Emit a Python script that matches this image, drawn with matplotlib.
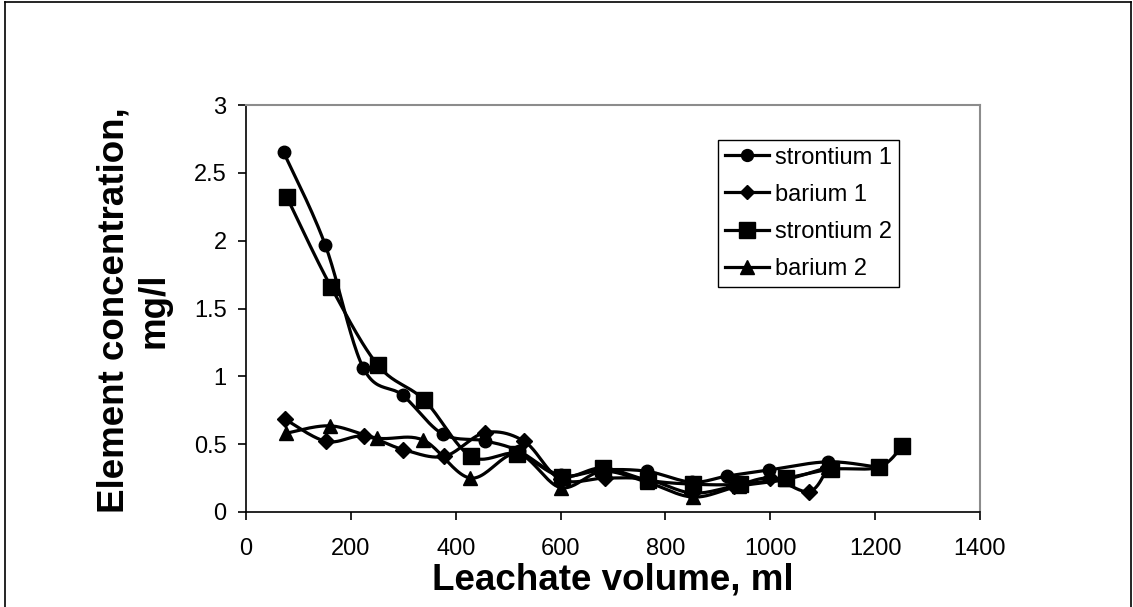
import numpy as np
import matplotlib
matplotlib.use("Agg")
import matplotlib.pyplot as plt
from matplotlib.lines import Line2D

plt.rcParams['font.family'] = ['Liberation Sans', 'DejaVu Sans']

# ---- data ----
sr1_x = [72, 151, 224, 299, 375, 455, 520, 600, 680, 765, 850, 918, 998, 1110, 1205]
sr1_y = [2.65, 1.97, 1.06, 0.86, 0.575, 0.525, 0.45, 0.27, 0.31, 0.30, 0.22, 0.265, 0.31, 0.37, 0.33]

ba1_x = [74, 153, 225, 300, 378, 456, 531, 600, 685, 765, 850, 930, 1000, 1074, 1110]
ba1_y = [0.685, 0.52, 0.56, 0.46, 0.41, 0.585, 0.52, 0.24, 0.25, 0.24, 0.14, 0.19, 0.25, 0.15, 0.33]

sr2_x = [78, 162, 252, 340, 429, 517, 602, 680, 767, 853, 942, 1030, 1116, 1207, 1252]
sr2_y = [2.32, 1.66, 1.08, 0.825, 0.41, 0.43, 0.26, 0.325, 0.235, 0.205, 0.205, 0.25, 0.315, 0.33, 0.485]

ba2_x = [76, 161, 250, 338, 428, 517, 600, 680, 765, 853, 940, 1030, 1110]
ba2_y = [0.58, 0.635, 0.545, 0.53, 0.25, 0.43, 0.18, 0.30, 0.22, 0.11, 0.19, 0.24, 0.33]

series_names = ["strontium 1", "barium 1", "strontium 2", "barium 2"]
x_ticks = [0, 200, 400, 600, 800, 1000, 1200, 1400]
y_ticks = [0, 0.5, 1, 1.5, 2, 2.5, 3]
y_tick_labels = ["0", "0.5", "1", "1.5", "2", "2.5", "3"]


def smooth(xs, ys, n=24):
    """Excel-like smoothed line: cubic Bezier through points (Catmull-Rom tangents)."""
    p = np.column_stack([xs, ys]).astype(float)
    out = []
    m = len(p)
    for i in range(m - 1):
        p0 = p[i - 1] if i > 0 else p[i]
        p1 = p[i]
        p2 = p[i + 1]
        p3 = p[i + 2] if i + 2 < m else p[i + 1]
        c1 = p1 + (p2 - p0) / 6.0
        c2 = p2 - (p3 - p1) / 6.0
        t = np.linspace(0, 1, n, endpoint=(i == m - 2))[:, None]
        seg = ((1 - t) ** 3) * p1 + 3 * ((1 - t) ** 2) * t * c1 + 3 * (1 - t) * t ** 2 * c2 + t ** 3 * p2
        out.append(seg)
    out = np.vstack(out)
    return out[:, 0], out[:, 1]


W, H = 1133, 607
fig = plt.figure(figsize=(W / 100, H / 100), dpi=100)
fig.patch.set_facecolor('white')

# outer chart frame
frame_lines = [
    Line2D([5.5 / W, 5.5 / W], [0, 1 - 1.5 / H]),
    Line2D([5.5 / W, 1 - 2 / W], [1 - 1.5 / H, 1 - 1.5 / H]),
    Line2D([1 - 2 / W, 1 - 2 / W], [0, 1 - 1.5 / H]),
]
for ln in frame_lines:
    ln.set_color('black')
    ln.set_linewidth(1.2)
    ln.set_transform(fig.transFigure)
    fig.add_artist(ln)

left, right, bottom, top = 246, 980, 512, 105
ax = fig.add_axes([left / W, 1 - bottom / H, (right - left) / W, (bottom - top) / H])

styles = [
    dict(marker='o', ms=9),
    dict(marker='D', ms=8),
    dict(marker='s', ms=12),
    dict(marker='^', ms=10),
]
data = [(sr1_x, sr1_y), (ba1_x, ba1_y), (sr2_x, sr2_y), (ba2_x, ba2_y)]

handles = []
for (xs, ys), st, name in zip(data, styles, series_names):
    sx, sy = smooth(xs, ys)
    ax.plot(sx, sy, color='black', lw=2.3, solid_capstyle='round', zorder=2)
    ax.plot(xs, ys, linestyle='none', marker=st['marker'], ms=st['ms'],
            color='black', mec='black', zorder=3)
    handles.append(Line2D([0], [0], color='black', lw=2.3, marker=st['marker'],
                          ms=st['ms'] * 0.95, mfc='black', mec='black', label=name))

ax.set_xlim(0, 1400)
ax.set_ylim(0, 3)
ax.set_xticks(x_ticks)
ax.set_xticklabels([str(v) for v in x_ticks])
ax.set_yticks(y_ticks)
ax.set_yticklabels(y_tick_labels)

for s in ['left', 'bottom']:
    ax.spines[s].set_color('black')
    ax.spines[s].set_linewidth(1.2)
for s in ['top', 'right']:
    ax.spines[s].set_color('#8c8c8c')
    ax.spines[s].set_linewidth(1.5)

ax.tick_params(axis='x', direction='out', length=6, width=1.2, pad=13,
               labelsize=17, colors='black')
ax.tick_params(axis='y', direction='out', length=6, width=1.2, pad=8,
               labelsize=17, colors='black')

fig.text(613 / W, 1 - 580 / H, "Leachate volume, ml", ha='center', va='center',
         fontsize=26.5, fontweight='bold')
fig.text(134 / W, 1 - 310 / H, "Element concentration,\nmg/l", ha='center', va='center',
         rotation=90, fontsize=26.5, fontweight='bold', multialignment='center',
         linespacing=1.2)

leg = ax.legend(handles=handles, loc='upper left',
                bbox_to_anchor=(718 / W, 1 - 140 / H), bbox_transform=fig.transFigure,
                borderaxespad=0, frameon=True, fancybox=False, shadow=False,
                fontsize=17, handlelength=1.9, handletextpad=0.25,
                labelspacing=0.64, borderpad=0.28)
leg.get_frame().set_edgecolor('black')
leg.get_frame().set_linewidth(1.0)
leg.get_frame().set_alpha(1)

fig.savefig('out.png', dpi=100, facecolor='white')
